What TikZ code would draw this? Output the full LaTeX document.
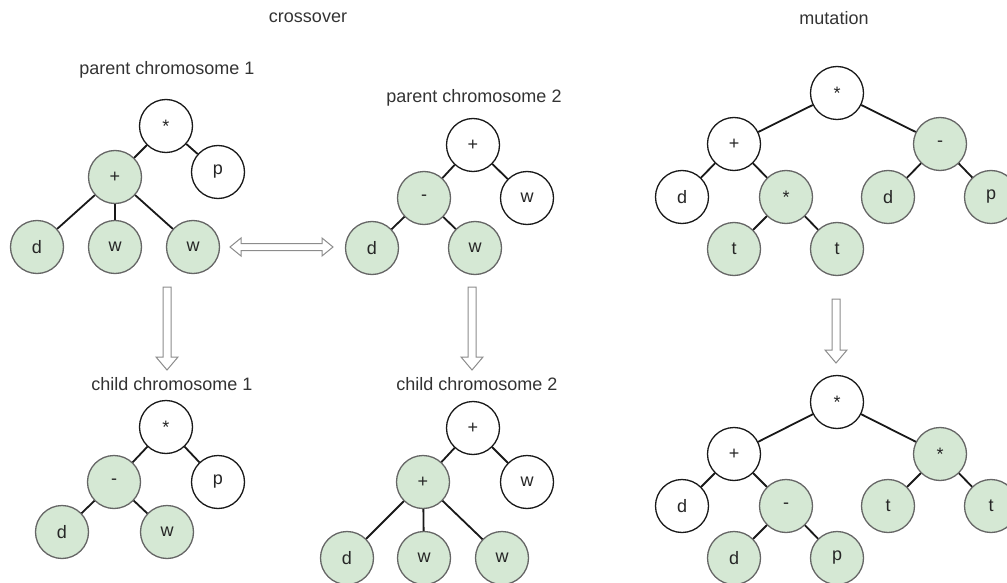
\documentclass[tikz,border=0pt]{standalone}
\usepackage{fontspec}
\setmainfont{Liberation Sans}
\begin{document}
\begin{tikzpicture}[x=1pt,y=-1pt,
  nd/.style={circle,minimum size=53pt,inner sep=0pt,line width=1.3pt,font=\fontsize{18}{20}\selectfont,text=black!85},
  wn/.style={nd,draw=black!90,fill=white},
  gn/.style={nd,draw=black!60,fill={rgb,255:red,213;green,232;blue,212}},
  ed/.style={line width=1.8pt,black!90},
  lbl/.style={font=\fontsize{18}{21}\selectfont,text=black!80},
  blk/.style={draw=black!45,fill=white,line width=1pt,line join=miter}]
\useasboundingbox (0,0) rectangle (1007,583);
\clip (0,0) rectangle (1007,583);
\newcommand\blkdown[3]{\draw[blk] (#1-4,#2) -- (#1+4,#2) -- (#1+4,#3-13) -- (#1+11,#3-13) -- (#1,#3) -- (#1-11,#3-13) -- (#1-4,#3-13) -- cycle;}
% titles
\node[lbl] (tcross) at (308,18) {crossover};
\node[lbl] (tmut) at (834,18) {mutation};
\node[lbl] (tp1) at (167,70) {parent chromosome 1};
\node[lbl] (tp2) at (474,98) {parent chromosome 2};
\node[lbl] (tc1) at (172,384) {child chromosome 1};
\node[lbl] (tc2) at (477,384) {child chromosome 2};
% parent 1
\node[wn] (pa) at (166,126) {*};
\node[gn] (pb) at (115,177) {+};
\node[wn] (pc) at (218,172) {p};
\node[gn] (pd) at (37,247) {d};
\node[gn] (pe) at (115,247) {w};
\node[gn] (pf) at (193,247) {w};
\draw[ed] (pa)--(pb) (pa)--(pc) (pb)--(pd) (pb)--(pe) (pb)--(pf);
% parent 2
\node[wn] (qa) at (473,145) {+};
\node[gn] (qb) at (424,198) {-};
\node[wn] (qc) at (527,198) {w};
\node[gn] (qd) at (372,248) {d};
\node[gn] (qe) at (475,248) {w};
\draw[ed] (qa)--(qb) (qa)--(qc) (qb)--(qd) (qb)--(qe);
% child 1
\node[wn] (ca) at (166,427) {*};
\node[gn] (cb) at (114,482) {-};
\node[wn] (cc) at (218,482) {p};
\node[gn] (cd) at (62,532) {d};
\node[gn] (ce) at (167,532) {w};
\draw[ed] (ca)--(cb) (ca)--(cc) (cb)--(cd) (cb)--(ce);
% child 2
\node[wn] (da) at (473,428) {+};
\node[gn] (db) at (423,482) {+};
\node[wn] (dc) at (527,482) {w};
\node[gn] (dd) at (347,558) {d};
\node[gn] (de) at (424,558) {w};
\node[gn] (df) at (502,558) {w};
\draw[ed] (da)--(db) (da)--(dc) (db)--(dd) (db)--(de) (db)--(df);
% mutation top
\node[wn] (ma) at (837,93) {*};
\node[wn] (mb) at (734,144) {+};
\node[gn] (mc) at (940,144) {-};
\node[wn] (md) at (682,197) {d};
\node[gn] (me) at (786,197) {*};
\node[gn] (mf) at (888,197) {d};
\node[gn] (mg) at (991,197) {p};
\node[gn] (mh) at (734,249) {t};
\node[gn] (mi) at (837,249) {t};
\draw[ed] (ma)--(mb) (ma)--(mc) (mb)--(md) (mb)--(me) (mc)--(mf) (mc)--(mg) (me)--(mh) (me)--(mi);
% mutation bottom
\node[wn] (na) at (837,402) {*};
\node[wn] (nb) at (734,454) {+};
\node[gn] (nc) at (940,454) {*};
\node[wn] (nd) at (682,506) {d};
\node[gn] (ne) at (786,506) {-};
\node[gn] (nf) at (888,506) {t};
\node[gn] (ng) at (991,506) {t};
\node[gn] (nh) at (734,558) {d};
\node[gn] (ni) at (837,558) {p};
\draw[ed] (na)--(nb) (na)--(nc) (nb)--(nd) (nb)--(ne) (nc)--(nf) (nc)--(ng) (ne)--(nh) (ne)--(ni);
% block arrows
\draw[blk] (230,247) -- (241,238) -- (241,243.5) -- (322,243.5) -- (322,238) -- (333,247) -- (322,256) -- (322,250.5) -- (241,250.5) -- (241,256) -- cycle;
\blkdown{167}{287}{370}
\blkdown{472}{287}{370}
\blkdown{836}{299}{363}
\end{tikzpicture}
\end{document}
